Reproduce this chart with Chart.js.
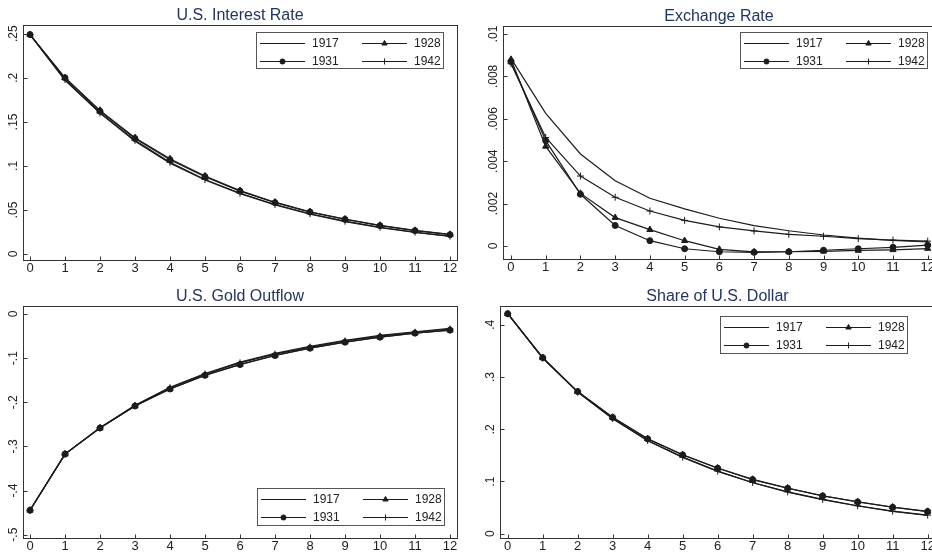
<!DOCTYPE html>
<html>
<head>
<meta charset="utf-8">
<script src="https://cdn.jsdelivr.net/npm/chart.js@4.4.1/dist/chart.umd.min.js"></script>
<style>
  html, body { margin: 0; padding: 0; background: #fff; overflow: hidden; width: 932px; height: 558px; position: relative; }
  canvas { position: absolute; }
</style>
</head>
<body>
<canvas id="cInterest" width="466" height="279" style="left:0px;top:0px"></canvas>
<canvas id="cExchange" width="480" height="279" style="left:466px;top:0px"></canvas>
<canvas id="cGold" width="466" height="279" style="left:0px;top:279px"></canvas>
<canvas id="cShare" width="480" height="279" style="left:466px;top:279px"></canvas>
<script>
// ===== data =====
const horizon = [0, 1, 2, 3, 4, 5, 6, 7, 8, 9, 10, 11, 12];
const seriesNames = ['1917', '1928', '1931', '1942'];

// U.S. Interest Rate
const interestTicks = [0, 0.05, 0.1, 0.15, 0.2, 0.25];
const interest1917 = [0.249, 0.197, 0.160, 0.128, 0.103, 0.0840, 0.0685, 0.0557, 0.0452, 0.0368, 0.0300, 0.0244, 0.0200];
const interest1928 = [0.249, 0.200, 0.163, 0.132, 0.108, 0.0885, 0.0720, 0.0588, 0.0480, 0.0397, 0.0326, 0.0268, 0.0222];
const interest1931 = [0.249, 0.200, 0.162, 0.131, 0.107, 0.0878, 0.0714, 0.0583, 0.0476, 0.0393, 0.0322, 0.0265, 0.0219];
const interest1942 = [0.249, 0.198, 0.160, 0.129, 0.104, 0.0845, 0.0690, 0.0562, 0.0457, 0.0373, 0.0304, 0.0248, 0.0203];

// Exchange Rate
const exchangeTicks = [0, 0.002, 0.004, 0.006, 0.008, 0.01];
const exchange1917 = [0.00885, 0.00626, 0.00434, 0.00308, 0.00225, 0.00175, 0.00131, 0.00096, 0.00072, 0.00052, 0.00037, 0.00026, 0.00019];
const exchange1928 = [0.00880, 0.00470, 0.00248, 0.00134, 0.00077, 0.00025, -0.00016, -0.00028, -0.00027, -0.00025, -0.00021, -0.00018, -0.00012];
const exchange1931 = [0.00870, 0.00497, 0.00244, 0.00097, 0.00025, -0.00013, -0.00027, -0.00030, -0.00027, -0.00020, -0.00013, -0.00006, 0.00004];
const exchange1942 = [0.00860, 0.00512, 0.00330, 0.00230, 0.00165, 0.00121, 0.00090, 0.00071, 0.00055, 0.00046, 0.00035, 0.00028, 0.00023];

// U.S. Gold Outflow
const goldTicks = [-0.5, -0.4, -0.3, -0.2, -0.1, 0];
const gold1917 = [-0.4447, -0.3174, -0.2575, -0.2070, -0.1660, -0.1348, -0.1090, -0.0894, -0.0735, -0.0598, -0.0485, -0.0402, -0.0326];
const gold1928 = [-0.4447, -0.3174, -0.2583, -0.2083, -0.1697, -0.1386, -0.1144, -0.0939, -0.0773, -0.0636, -0.0523, -0.0432, -0.0364];
const gold1931 = [-0.4447, -0.3174, -0.2583, -0.2085, -0.1700, -0.1390, -0.1146, -0.0941, -0.0775, -0.0638, -0.0525, -0.0434, -0.0366];
const gold1942 = [-0.4447, -0.3174, -0.2578, -0.2076, -0.1672, -0.1362, -0.1108, -0.0910, -0.0750, -0.0612, -0.0500, -0.0414, -0.0340];

// Share of U.S. Dollar
const shareTicks = [0, 0.1, 0.2, 0.3, 0.4];
const share1917 = [0.421, 0.336, 0.271, 0.2200, 0.1780, 0.1460, 0.1193, 0.0976, 0.0797, 0.0651, 0.0530, 0.0427, 0.0351];
const share1928 = [0.421, 0.337, 0.272, 0.2227, 0.1818, 0.1512, 0.1257, 0.1040, 0.0874, 0.0727, 0.0612, 0.0510, 0.0427];
const share1931 = [0.421, 0.337, 0.272, 0.2225, 0.1815, 0.1508, 0.1253, 0.1036, 0.0870, 0.0723, 0.0608, 0.0506, 0.0424];
const share1942 = [0.421, 0.336, 0.271, 0.2205, 0.1785, 0.1465, 0.1198, 0.0981, 0.0802, 0.0656, 0.0535, 0.0432, 0.0356];

// ===== look =====
const FONT = '"Liberation Sans", Arial, sans-serif';
const INK = '#1c1c1c';
Chart.defaults.font.family = FONT;
Chart.defaults.color = '#222';

// marker per series: plain line, triangle, dot, plus
const marks = {
  '1917': { pointStyle: 'circle', pointRadius: 0 },
  '1928': { pointStyle: 'triangle', pointRadius: 3.6 },
  '1931': { pointStyle: 'circle', pointRadius: 3 },
  '1942': { pointStyle: 'cross', pointRadius: 3.5 }
};

// stata style tick labels: .05, -.5
const fmt = v => String(v).replace(/^(-?)0\./, '$1.');

// frame, inward ticks, rotated y labels, title and boxed legend
const stataLook = {
  id: 'stataLook',
  afterDraw(chart, args, o) {
    const ctx = chart.ctx;
    const a = chart.chartArea;
    const xs = chart.scales.x, ys = chart.scales.y;
    const L = Math.round(a.left) + 0.5, R = Math.round(a.right) + 0.5;
    const T = Math.round(a.top) + 0.5, B = Math.round(a.bottom) + 0.5;
    ctx.save();

    ctx.strokeStyle = '#333';
    ctx.lineWidth = 1;
    ctx.strokeRect(L, T, R - L, B - T);
    ctx.beginPath();
    xs.ticks.forEach(t => {
      const px = Math.round(xs.getPixelForValue(t.value)) + 0.5;
      ctx.moveTo(px, B); ctx.lineTo(px, B - 4);
    });
    ys.ticks.forEach(t => {
      const py = Math.round(ys.getPixelForValue(t.value)) + 0.5;
      ctx.moveTo(L, py); ctx.lineTo(L + 4, py);
    });
    ctx.stroke();

    ctx.fillStyle = '#222';
    ctx.font = '12px ' + FONT;
    ctx.textAlign = 'center';
    ctx.textBaseline = 'middle';
    ys.ticks.forEach(t => {
      ctx.save();
      ctx.translate(a.left - 9, ys.getPixelForValue(t.value));
      ctx.rotate(-Math.PI / 2);
      ctx.fillText(t.label, 0, 0);
      ctx.restore();
    });

    ctx.fillStyle = '#25345f';
    ctx.font = '16px ' + FONT;
    ctx.textBaseline = 'alphabetic';
    ctx.fillText(o.title, (a.left + a.right) / 2, a.top - 5);

    const lg = o.legend;
    ctx.fillStyle = '#fff';
    ctx.fillRect(lg.x, lg.y, lg.w, lg.h);
    ctx.strokeStyle = '#555';
    ctx.strokeRect(lg.x + 0.5, lg.y + 0.5, lg.w, lg.h);
    ctx.font = '12px ' + FONT;
    ctx.textAlign = 'left';
    ctx.textBaseline = 'middle';
    chart.data.datasets.forEach((ds, i) => {
      const col = i % 2, row = Math.floor(i / 2);
      const sx = lg.x + 4 + col * 102;
      const sy = Math.round(lg.y + 11 + row * 17.5) + 0.5;
      ctx.strokeStyle = ds.borderColor;
      ctx.fillStyle = ds.borderColor;
      ctx.lineWidth = 1;
      ctx.beginPath();
      ctx.moveTo(sx, sy); ctx.lineTo(sx + 45, sy);
      ctx.stroke();
      if (ds.pointRadius > 0) {
        Chart.helpers.drawPoint(ctx, { pointStyle: ds.pointStyle, radius: ds.pointRadius * 0.85, borderWidth: 1, rotation: 0 }, sx + 22.5, sy);
      }
      ctx.fillStyle = '#222';
      ctx.fillText(ds.label, sx + 52, sy);
    });
    ctx.restore();
  }
};

function makePanel(id, title, series, yTicks, yMin, yMax, xMin, xMax, pad, legendBox) {
  const datasets = seriesNames.map((name, i) => ({
    label: name,
    data: series[i].map((v, j) => ({ x: horizon[j], y: v })),
    borderColor: INK,
    backgroundColor: INK,
    borderWidth: 1.2,
    pointStyle: marks[name].pointStyle,
    pointRadius: marks[name].pointRadius,
    pointBorderWidth: 1,
    pointHoverRadius: 0,
    tension: 0,
    fill: false
  }));
  return new Chart(document.getElementById(id), {
    type: 'line',
    data: { datasets },
    plugins: [stataLook],
    options: {
      responsive: false,
      animation: false,
      devicePixelRatio: 1,
      layout: { padding: pad },
      plugins: {
        legend: { display: false },
        title: { display: false },
        tooltip: { enabled: false },
        stataLook: { title, legend: legendBox }
      },
      scales: {
        x: {
          type: 'linear',
          min: xMin,
          max: xMax,
          afterBuildTicks: s => { s.ticks = horizon.map(v => ({ value: v })); },
          afterFit: s => { s.height = 18; },
          grid: { display: false, drawTicks: false },
          border: { display: false },
          ticks: { padding: 1, font: { size: 13 }, color: '#222', maxRotation: 0, autoSkip: false }
        },
        y: {
          type: 'linear',
          display: false,
          min: yMin,
          max: yMax,
          afterBuildTicks: s => { s.ticks = yTicks.map(v => ({ value: v })); },
          ticks: { callback: v => fmt(v) }
        }
      }
    }
  });
}

makePanel('cInterest', 'U.S. Interest Rate',
  [interest1917, interest1928, interest1931, interest1942],
  interestTicks, -0.0068, 0.2599, -0.2, 12.2,
  { left: 23, top: 25, right: 9, bottom: 1 },
  { x: 256, y: 32, w: 187, h: 36 });

makePanel('cExchange', 'Exchange Rate',
  [exchange1917, exchange1928, exchange1931, exchange1942],
  exchangeTicks, -0.000613, 0.010377, -0.23, 12.21,
  { left: 37, top: 26, right: 11, bottom: 2 },
  { x: 274, y: 32, w: 187, h: 36 });

makePanel('cGold', 'U.S. Gold Outflow',
  [gold1917, gold1928, gold1931, gold1942],
  goldTicks, -0.5075, 0.0181, -0.2, 12.2,
  { left: 23, top: 27, right: 9, bottom: 2 },
  { x: 257, y: 209, w: 187, h: 37 });

makePanel('cShare', 'Share of U.S. Dollar',
  [share1917, share1928, share1931, share1942],
  shareTicks, -0.0082, 0.4358, -0.22, 12.21,
  { left: 34, top: 27, right: 11, bottom: 2 },
  { x: 254, y: 37, w: 187, h: 37 });
</script>
</body>
</html>
